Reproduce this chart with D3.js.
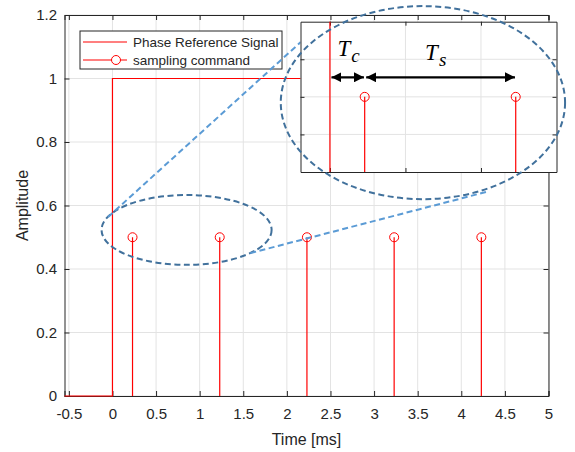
<!DOCTYPE html>
<html>
<head>
<meta charset="UTF-8">
<script src="https://d3js.org/d3.v7.min.js"></script>
<style>
	body{ margin:0; background:#fff; }
	text{ font-family: "Liberation Sans", Arial, sans-serif; fill:#262626; }
</style>
</head>
<body>
<div id="chart"></div>
<script>
// data
var signalT = [-0.55, 0, 0, 5];
var signalA = [0, 0, 1, 1];
var sampleT = [0.23, 1.23, 2.23, 3.23, 4.23];
var sampleA = [0.5, 0.5, 0.5, 0.5, 0.5];
var xTicks = [-0.5, 0, 0.5, 1, 1.5, 2, 2.5, 3, 3.5, 4, 4.5, 5];
var yTicks = [0, 0.2, 0.4, 0.6, 0.8, 1, 1.2];
var insetXTicks = [0, 0.5, 1];
var insetYTicks = [0.4, 0.5, 0.6];
var legendLabels = ["Phase Reference Signal", "sampling command"];

var W = 575, H = 452;
var red = "#ff0000", axisC = "#262626", gridC = "#e3e3e3";

var svg = d3.select("#chart").append("svg").attr("width", W).attr("height", H);

var x = d3.scaleLinear().domain([-0.55, 5]).range([64.5, 548.5]);
var y = d3.scaleLinear().domain([0, 1.2]).range([396, 15]);

//grid
var g = svg.append("g");
g.selectAll(".gx").data(xTicks).enter().append("line")
	.attr("x1", d => x(d)).attr("x2", d => x(d)).attr("y1", y(0)).attr("y2", y(1.2))
	.attr("stroke", gridC);
g.selectAll(".gy").data(yTicks).enter().append("line")
	.attr("y1", d => y(d)).attr("y2", d => y(d)).attr("x1", x(-0.55)).attr("x2", x(5))
	.attr("stroke", gridC);

//axes
var fmt = d => String(d);
var xAxB = d3.axisBottom(x).tickValues(xTicks).tickSize(-5).tickPadding(12.5).tickFormat(fmt),
	xAxT = d3.axisTop(x).tickValues(xTicks).tickSize(-5).tickFormat(""),
	yAxL = d3.axisLeft(y).tickValues(yTicks).tickSize(-5).tickPadding(7.5).tickFormat(fmt),
	yAxR = d3.axisRight(y).tickValues(yTicks).tickSize(-5).tickFormat("");
function styleAx(sel){
	sel.select(".domain").attr("stroke", axisC);
	sel.selectAll(".tick line").attr("stroke", axisC);
	sel.selectAll(".tick text").attr("fill", axisC).style("font-size", "15px")
		.style("font-family", "Liberation Sans, Arial, sans-serif");
}
svg.append("g").attr("transform", "translate(0," + y(0) + ")").call(xAxB).call(styleAx);
svg.append("g").attr("transform", "translate(0," + y(1.2) + ")").call(xAxT).call(styleAx);
svg.append("g").attr("transform", "translate(" + x(-0.55) + ",0)").call(yAxL).call(styleAx);
svg.append("g").attr("transform", "translate(" + x(5) + ",0)").call(yAxR).call(styleAx);

svg.append("text").attr("x", (x(-0.55) + x(5)) / 2).attr("y", 445).attr("text-anchor", "middle")
	.style("font-size", "16px").text("Time [ms]");
svg.append("text").attr("transform", "translate(27.5," + y(0.6) + ") rotate(-90)").attr("text-anchor", "middle")
	.style("font-size", "16px").text("Amplitude");

//signal
var line = d3.line().x(d => x(d[0])).y(d => y(d[1]));
svg.append("path").datum(d3.zip(signalT, signalA)).attr("d", line)
	.attr("fill", "none").attr("stroke", red).attr("stroke-width", 1.2);

//stems
var st = d3.zip(sampleT, sampleA);
svg.selectAll(".stem").data(st).enter().append("line")
	.attr("x1", d => x(d[0])).attr("x2", d => x(d[0])).attr("y1", y(0)).attr("y2", d => y(d[1]))
	.attr("stroke", red).attr("stroke-width", 1.2);
svg.selectAll(".mk").data(st).enter().append("circle")
	.attr("cx", d => x(d[0])).attr("cy", d => y(d[1])).attr("r", 4.5)
	.attr("fill", "none").attr("stroke", red).attr("stroke-width", 1);

//legend
var lg = svg.append("g").attr("transform", "translate(80,31)");
lg.append("rect").attr("width", 202).attr("height", 38).attr("fill", "#fff").attr("stroke", axisC);
lg.selectAll(".ll").data(legendLabels).enter().append("line")
	.attr("x1", 3).attr("x2", 47).attr("y1", (d, i) => 11 + i * 18).attr("y2", (d, i) => 11 + i * 18)
	.attr("stroke", red).attr("stroke-width", 1.2);
lg.append("circle").attr("cx", 36).attr("cy", 29).attr("r", 4.5).attr("fill", "#fff").attr("stroke", red);
lg.selectAll(".lt").data(legendLabels).enter().append("text")
	.attr("x", 53).attr("y", (d, i) => 16 + i * 18).style("font-size", "13.5px").text(d => d);

//zoom marks
var dark = "#41719c", light = "#5b9bd5";
svg.append("ellipse").attr("cx", x(0.85)).attr("cy", y(0.523))
	.attr("rx", x(0.975) - x(0)).attr("ry", y(0) - y(0.11))
	.attr("fill", "none").attr("stroke", dark).attr("stroke-width", 2).attr("stroke-dasharray", "6,3.5");
var conn = [[[-0.05, 0.564], [2.16, 1.115]], [[1.58, 0.45], [4.29, 0.643]]];
svg.selectAll(".conn").data(conn).enter().append("line")
	.attr("x1", d => x(d[0][0])).attr("y1", d => y(d[0][1]))
	.attr("x2", d => x(d[1][0])).attr("y2", d => y(d[1][1]))
	.attr("stroke", light).attr("stroke-width", 2).attr("stroke-dasharray", "6,3.5");

//inset
var xi = d3.scaleLinear().domain([-0.195, 1.5]).range([300.5, 556.5]);
var yi = d3.scaleLinear().domain([0.3, 0.7]).range([172, 21.7]);
var ins = svg.append("g");
ins.append("rect").attr("x", xi(-0.195)).attr("y", yi(0.7))
	.attr("width", xi(1.5) - xi(-0.195)).attr("height", yi(0.3) - yi(0.7)).attr("fill", "#fff");
ins.selectAll(".igx").data(insetXTicks).enter().append("line")
	.attr("x1", d => xi(d)).attr("x2", d => xi(d)).attr("y1", yi(0.3)).attr("y2", yi(0.7)).attr("stroke", gridC);
ins.selectAll(".igy").data(insetYTicks).enter().append("line")
	.attr("y1", d => yi(d)).attr("y2", d => yi(d)).attr("x1", xi(-0.195)).attr("x2", xi(1.5)).attr("stroke", gridC);
ins.append("clipPath").attr("id", "ic").append("rect").attr("x", xi(-0.195)).attr("y", yi(0.7))
	.attr("width", xi(1.5) - xi(-0.195)).attr("height", yi(0.3) - yi(0.7));
var iax = [
	[d3.axisBottom(xi).tickValues(insetXTicks), yi(0.3), "x"],
	[d3.axisTop(xi).tickValues(insetXTicks), yi(0.7), "x"],
	[d3.axisLeft(yi).tickValues(insetYTicks), xi(-0.195), "y"],
	[d3.axisRight(yi).tickValues(insetYTicks), xi(1.5), "y"]];
iax.forEach(function(a){
	var gg = ins.append("g").attr("transform", a[2] == "x" ? "translate(0," + a[1] + ")" : "translate(" + a[1] + ",0)")
		.call(a[0].tickSize(-4).tickSizeOuter(0).tickFormat(""));
	gg.select(".domain").attr("stroke", axisC);
	gg.selectAll(".tick line").attr("stroke", axisC);
});
var ic = ins.append("g").attr("clip-path", "url(#ic)");
var iline = d3.line().x(d => xi(d[0])).y(d => yi(d[1]));
ic.append("path").datum(d3.zip(signalT, signalA)).attr("d", iline)
	.attr("fill", "none").attr("stroke", red).attr("stroke-width", 1.2);
ic.selectAll(".istem").data(st).enter().append("line")
	.attr("x1", d => xi(d[0])).attr("x2", d => xi(d[0])).attr("y1", yi(0.3)).attr("y2", d => yi(d[1]))
	.attr("stroke", red).attr("stroke-width", 1.2);
ic.selectAll(".imk").data(st).enter().append("circle")
	.attr("cx", d => xi(d[0])).attr("cy", d => yi(d[1])).attr("r", 4.5)
	.attr("fill", "none").attr("stroke", red);

//arrows
var defs = svg.append("defs");
defs.append("marker").attr("id", "ah").attr("viewBox", "0 0 10 10").attr("refX", 10).attr("refY", 5)
	.attr("markerWidth", 10).attr("markerHeight", 10).attr("markerUnits", "userSpaceOnUse")
	.attr("orient", "auto-start-reverse")
	.append("path").attr("d", "M0,0L10,5L0,10Z").attr("fill", "#000");
var arrows = [[0.01, 0.225], [0.24, 1.225]];
ins.selectAll(".arr").data(arrows).enter().append("line")
	.attr("x1", d => xi(d[0])).attr("x2", d => xi(d[1])).attr("y1", yi(0.552)).attr("y2", yi(0.552))
	.attr("stroke", "#000").attr("stroke-width", 2.2)
	.attr("marker-start", "url(#ah)").attr("marker-end", "url(#ah)");
var labs = [["T", "c", 0.05, 0.61], ["T", "s", 0.63, 0.597]];
labs.forEach(function(l){
	var t = ins.append("text").attr("x", xi(l[2])).attr("y", yi(l[3]))
		.style("font-family", "Liberation Serif, serif").style("font-style", "italic")
		.style("font-size", "23px").style("fill", "#000").text(l[0]);
	t.append("tspan").attr("dy", 6).attr("dx", 1).style("font-size", "19px").text(l[1]);
});

//big ellipse over inset
svg.append("ellipse").attr("cx", x(3.56)).attr("cy", y(0.924))
	.attr("rx", x(1.63) - x(0)).attr("ry", y(0) - y(0.304))
	.attr("fill", "none").attr("stroke", dark).attr("stroke-width", 2).attr("stroke-dasharray", "6,3.5");
</script>
</body>
</html>
